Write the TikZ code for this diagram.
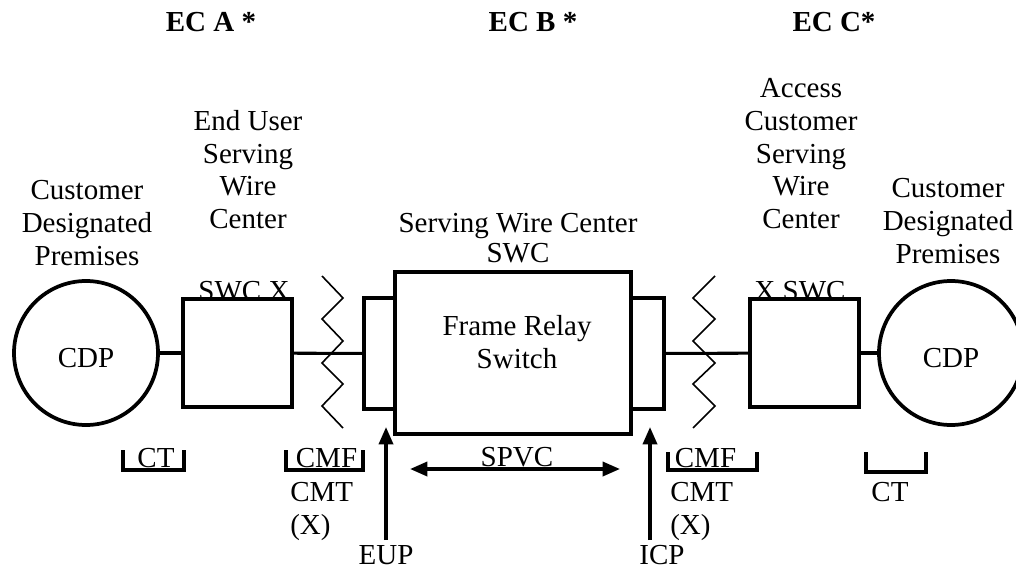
\documentclass[tikz,border=0pt]{standalone}
\usepackage{fontspec}
\setmainfont{Liberation Serif}
\usetikzlibrary{arrows.meta}

\begin{document}
\begin{tikzpicture}[x=0.75pt,y=-0.75pt,
  every node/.style={font=\fontsize{21.75}{24.6}\selectfont, inner sep=0pt},
  head/.style={font=\fontsize{21.75}{24.6}\selectfont\bfseries},
  box/.style={draw, line width=2.8pt, fill=white},
  site/.style={draw, circle, line width=2.8pt, minimum size=108pt, text height=21.9pt},
  wire/.style={line width=2.3pt},
  brak/.style={line width=2.6pt},
  zig/.style={line width=1.2pt},
  uparrow/.style={line width=2.6pt, -{Triangle[length=13pt,width=10.5pt]}},
  bothways/.style={line width=2.6pt, {Triangle[length=13pt,width=10.5pt]}-{Triangle[length=13pt,width=10.5pt]}}]
\useasboundingbox (0,0) rectangle (1016,571);

% headers
\node[head] (eca) at (211,22) {EC A *};
\node[head] (ecb) at (533,22) {EC B *};
\node[head] (ecc) at (834,22) {EC C*};

% site labels
\node[anchor=north, align=center] (cdpltxt) at (87,180) {Customer\\Designated\\Premises};
\node[anchor=north, align=center] (euswc) at (248,110) {End User\\Serving\\Wire\\Center};
\node[anchor=north, align=center] (swctxt) at (518,213) {Serving Wire Center\\[-2pt]SWC};
\node[anchor=north, align=center] (acswc) at (801,78) {Access\\Customer\\Serving\\Wire\\Center};
\node[anchor=north, align=center] (cdprtxt) at (948,178) {Customer\\Designated\\Premises};

% boxes
\node[site] (cdpl) at (86,353) {CDP};
\node[site] (cdpr) at (951,353) {CDP};
\node[box, minimum width=81.75pt, minimum height=81pt] (swcx) at (237.5,353) {};
\node[box, minimum width=81.75pt, minimum height=81pt] (xswc) at (804.5,353) {};
\node[box, minimum width=177pt, minimum height=121.5pt] (frs) at (513,353) {};
\node[box, minimum width=23.25pt, minimum height=83.25pt] (eupport) at (379.5,353.5) {};
\node[box, minimum width=24.75pt, minimum height=83.25pt] (icpport) at (647.5,353.5) {};
\node[anchor=north, align=center] (frstxt) at (517,315) {Frame Relay\\Switch};
\node[anchor=base] (swcxtxt) at (244,300) {SWC X};
\node[anchor=base] (xswctxt) at (800,300) {X SWC};

% wires
\draw[wire] (cdpl) -- (swcx);
\draw[wire] (swcx) -- (eupport);
\draw[wire] (icpport) -- (xswc);
\draw[wire] (xswc) -- (cdpr);

% cuts
\draw[zig] (322,276) -- (343,298) -- (322,319) -- (343,341) -- (322,363) -- (343,384) -- (322,406) -- (343,428);
\draw[zig] (715,276) -- (693,298) -- (715,319) -- (693,341) -- (715,363) -- (693,384) -- (715,406) -- (693,428);

% brackets
\node[anchor=base] (ctl) at (156,467) {CT};
\draw[brak] (123,450) -- (123,470) -- (184,470) -- (184,450);
\node[anchor=base] (cmfl) at (326.5,467) {CMF};
\draw[brak] (286,450) -- (286,470) -- (363,470) -- (363,450);
\node[anchor=north west, align=left] (cmtl) at (290,482) {CMT\\(X)};
\node[anchor=base] (cmfr) at (705.5,467) {CMF};
\draw[brak] (668,452) -- (668,470) -- (757,470) -- (757,452);
\node[anchor=north west, align=left] (cmtr) at (670,482) {CMT\\(X)};
\draw[brak] (866,452) -- (866,472) -- (926,472) -- (926,452);
\node (ctr) at (890,492) {CT};

% points of interface
\node (eup) at (386,555) {EUP};
\node (icp) at (662,555) {ICP};
\coordinate (eupfoot) at (386,540);
\coordinate (euptip) at (386,427);
\coordinate (icpfoot) at (650,540);
\coordinate (icptip) at (650,427);
\draw[uparrow] (eupfoot) -- (euptip);
\draw[uparrow] (icpfoot) -- (icptip);

\node[anchor=base] (spvc) at (517,466) {SPVC};
\coordinate (spvcl) at (410,469);
\coordinate (spvcr) at (620,469);
\draw[bothways] (spvcl) -- (spvcr);
\end{tikzpicture}
\end{document}
